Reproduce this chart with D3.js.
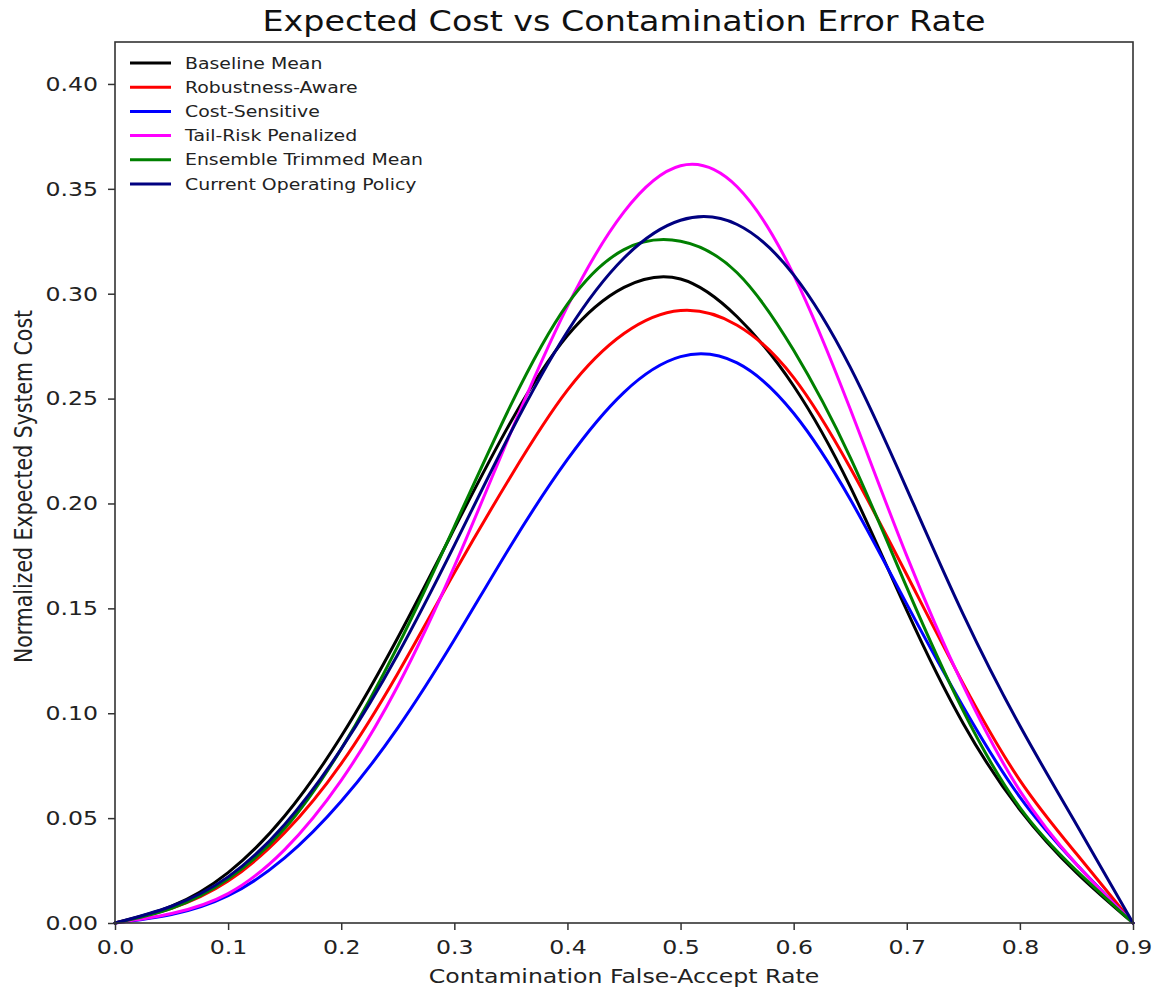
<!DOCTYPE html>
<html>
<head>
<meta charset="utf-8">
<script src="https://cdn.jsdelivr.net/npm/d3@7"></script>
<style>
  html, body { margin: 0; padding: 0; background: #fff; }
  svg { display: block; font-family: "DejaVu Sans", sans-serif; }
</style>
</head>
<body>
<svg id="chart" width="1155" height="989"></svg>
<script>
// Contamination false-accept rate grid shared by every policy curve
const rates = [0, 0.05, 0.10, 0.15, 0.20, 0.25, 0.30, 0.35, 0.40, 0.45,
               0.50, 0.55, 0.60, 0.65, 0.70, 0.75, 0.80, 0.85, 0.90];

// Normalized expected system cost per policy
const baselineMean     = [0, 0.008, 0.024, 0.051, 0.089, 0.136, 0.188, 0.239, 0.280, 0.303, 0.307, 0.289, 0.256, 0.208, 0.149, 0.095, 0.054, 0.024, 0];
const robustnessAware  = [0, 0.007, 0.020, 0.043, 0.076, 0.119, 0.167, 0.213, 0.254, 0.281, 0.292, 0.285, 0.260, 0.217, 0.166, 0.114, 0.068, 0.033, 0];
const costSensitive    = [0, 0.004, 0.013, 0.031, 0.058, 0.093, 0.135, 0.180, 0.221, 0.253, 0.270, 0.267, 0.243, 0.202, 0.152, 0.103, 0.060, 0.028, 0];
const tailRiskPenal    = [0, 0.0045, 0.014, 0.035, 0.068, 0.113, 0.170, 0.234, 0.294, 0.339, 0.361, 0.351, 0.309, 0.245, 0.175, 0.113, 0.063, 0.028, 0];
const ensembleTrimmed  = [0, 0.007, 0.021, 0.045, 0.083, 0.132, 0.189, 0.247, 0.295, 0.321, 0.325, 0.310, 0.273, 0.222, 0.160, 0.101, 0.055, 0.025, 0];
const currentOperating = [0, 0.008, 0.022, 0.047, 0.083, 0.128, 0.180, 0.234, 0.282, 0.317, 0.335, 0.333, 0.309, 0.265, 0.207, 0.147, 0.094, 0.047, 0];

const seriesNames  = ["Baseline Mean", "Robustness-Aware", "Cost-Sensitive",
                      "Tail-Risk Penalized", "Ensemble Trimmed Mean", "Current Operating Policy"];
const seriesValues = [baselineMean, robustnessAware, costSensitive,
                      tailRiskPenal, ensembleTrimmed, currentOperating];
const seriesColors = ["#000000", "#ff0000", "#0000ff", "#ff00ff", "#008000", "#000080"];

const xTicks = [0, 0.1, 0.2, 0.3, 0.4, 0.5, 0.6, 0.7, 0.8, 0.9];
const yTicks = [0, 0.05, 0.10, 0.15, 0.20, 0.25, 0.30, 0.35, 0.40];

const titleText  = "Expected Cost vs Contamination Error Rate";
const xLabelText = "Contamination False-Accept Rate";
const yLabelText = "Normalized Expected System Cost";

// Glyphs in this figure are drawn slightly wide
const stretch = 1.18;

const svg = d3.select("#chart");
const margin = { top: 42, right: 22, bottom: 66, left: 115 };
const W = +svg.attr("width"), H = +svg.attr("height");
const iw = W - margin.left - margin.right;
const ih = H - margin.top - margin.bottom;

const x = d3.scaleLinear().domain([0, 0.9]).range([0, iw]);
const y = d3.scaleLinear().domain([0, 0.42]).range([ih, 0]);

const g = svg.append("g").attr("transform", `translate(${margin.left},${margin.top})`);

// Curves
const line = d3.line()
  .x((d, i) => x(rates[i]))
  .y(d => y(d))
  .curve(d3.curveNatural);

svg.append("defs").append("clipPath").attr("id", "plotClip")
  .append("rect").attr("x", -2).attr("y", -2).attr("width", iw + 4).attr("height", ih + 4);

g.append("g").attr("clip-path", "url(#plotClip)")
  .selectAll("path.series")
  .data(seriesValues)
  .join("path")
  .attr("class", "series")
  .attr("d", d => line(d))
  .attr("fill", "none")
  .attr("stroke", (d, i) => seriesColors[i])
  .attr("stroke-width", 3)
  .attr("stroke-linejoin", "round")
  .attr("stroke-linecap", "round");

// Widen a text node horizontally around its anchor point
function widen(sel, s) {
  sel.each(function () {
    const t = d3.select(this);
    const tx = +t.attr("x") || 0, ty = +t.attr("y") || 0;
    t.attr("x", 0).attr("y", 0)
     .attr("transform", `translate(${tx},${ty}) scale(${s},1)`);
  });
}

// Axes
const xAxis = d3.axisBottom(x).tickValues(xTicks).tickFormat(d3.format(".1f"))
  .tickSize(7).tickPadding(10);
const yAxis = d3.axisLeft(y).tickValues(yTicks).tickFormat(d3.format(".2f"))
  .tickSize(7).tickPadding(10);

const gx = g.append("g").attr("transform", `translate(0,${ih})`).call(xAxis);
const gy = g.append("g").call(yAxis);
[gx, gy].forEach(a => {
  a.select(".domain").remove();
  a.selectAll(".tick line").attr("stroke", "#333").attr("stroke-width", 1.5);
  a.selectAll(".tick text").attr("fill", "#222").style("font-size", "20px")
    .style("font-family", "'DejaVu Sans', sans-serif");
  widen(a.selectAll(".tick text"), stretch);
});

// Frame
g.append("rect").attr("width", iw).attr("height", ih)
  .attr("fill", "none").attr("stroke", "#333").attr("stroke-width", 1.6);

// Title and axis labels
svg.append("text")
  .attr("transform", `translate(${margin.left + iw / 2},31) scale(1.15,1)`)
  .attr("text-anchor", "middle").style("font-size", "29px").attr("fill", "#111")
  .text(titleText);

svg.append("text")
  .attr("transform", `translate(${margin.left + iw / 2},983) scale(${stretch},1)`)
  .attr("text-anchor", "middle").style("font-size", "20px").attr("fill", "#222")
  .text(xLabelText);

svg.append("text")
  .attr("transform", `translate(32,${margin.top + ih / 2 + 4}) scale(${stretch},1) rotate(-90)`)
  .attr("text-anchor", "middle").style("font-size", "20.5px").attr("fill", "#222")
  .text(yLabelText);

// Legend
const legend = g.append("g").attr("transform", "translate(15,21)");
const rows = legend.selectAll("g").data(seriesNames).join("g")
  .attr("transform", (d, i) => `translate(0,${i * 24.2})`);
rows.append("line").attr("x1", 0).attr("x2", 41).attr("y1", 0).attr("y2", 0)
  .attr("stroke", (d, i) => seriesColors[i]).attr("stroke-width", 3);
rows.append("text")
  .attr("transform", `translate(55,0) scale(${stretch},1)`)
  .attr("dy", "0.35em")
  .style("font-size", "16px").attr("fill", "#222").text(d => d);
</script>
</body>
</html>
